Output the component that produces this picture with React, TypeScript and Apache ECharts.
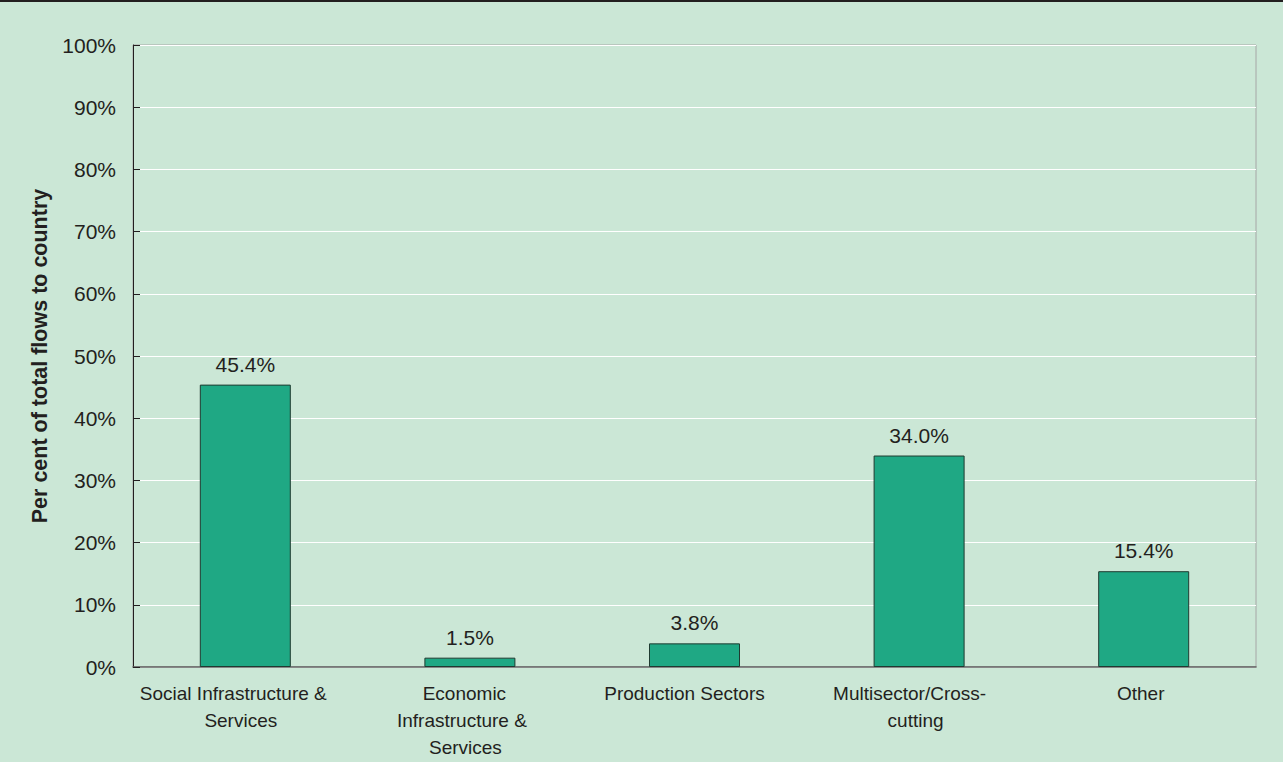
import React, { useEffect, useRef } from "react";
import * as echarts from "echarts";

const categories = [
  "Social Infrastructure &\nServices",
  "Economic\nInfrastructure &\nServices",
  "Production Sectors",
  "Multisector/Cross-\ncutting",
  "Other",
];
const values = [45.4, 1.5, 3.8, 34.0, 15.4];
const yTicks = { min: 0, max: 100, interval: 10 };
const yTitle = "Per cent of total flows to country";

const TEXT = "#231f20";
const FONT = "'Liberation Sans', Arial, sans-serif";
const CAT_SIZE = 19;
const CAT_LH = 27;

export default function App() {
  const ref = useRef<HTMLDivElement>(null);
  useEffect(() => {
    if (!ref.current) return;

    // Build rich styles so each label line sits slightly left of centre, as in the source.
    const ctx = document.createElement("canvas").getContext("2d");
    if (ctx) ctx.font = `${CAT_SIZE}px ${FONT}`;
    const rich: Record<string, any> = {};
    const catText: string[] = categories.map((cat, i) =>
      cat
        .split("\n")
        .map((line, j) => {
          const w = ctx ? ctx.measureText(line).width : line.length * 9;
          const key = `l${i}_${j}`;
          rich[key] = {
            fontSize: CAT_SIZE,
            lineHeight: CAT_LH,
            color: TEXT,
            fontFamily: FONT,
            padding: [0, Math.round(w * 0.126), 0, 0],
          };
          return `{${key}|${line}}`;
        })
        .join("\n")
    );

    const chart = echarts.init(ref.current, undefined, { renderer: "svg" });
    chart.setOption({
      animation: false,
      backgroundColor: "#cbe7d6",
      textStyle: { fontFamily: FONT, color: TEXT },
      graphic: [
        {
          type: "rect",
          left: 0,
          top: 0,
          shape: { width: 1283, height: 2 },
          style: { fill: TEXT },
        },
      ],
      grid: {
        left: 133,
        right: 27,
        top: 45,
        bottom: 95,
        show: true,
        borderColor: "#a6a6a6",
        borderWidth: 1,
        backgroundColor: "transparent",
      },
      xAxis: {
        type: "category",
        data: categories,
        axisLine: { show: true, lineStyle: { color: "#5f5f5f", width: 1.5 } },
        axisTick: { show: false },
        axisLabel: {
          interval: 0,
          fontSize: CAT_SIZE,
          lineHeight: CAT_LH,
          margin: 13,
          color: TEXT,
          fontFamily: FONT,
          formatter: (_v: string, idx: number) => catText[idx],
          rich,
        },
        splitLine: { show: false },
      },
      yAxis: {
        type: "value",
        min: yTicks.min,
        max: yTicks.max,
        interval: yTicks.interval,
        name: yTitle,
        nameLocation: "middle",
        nameGap: 82,
        nameRotate: 90,
        nameTextStyle: {
          fontSize: 21.5,
          fontWeight: "bold",
          color: TEXT,
          fontFamily: FONT,
        },
        axisLine: { show: true, lineStyle: { color: TEXT, width: 1 } },
        axisTick: { show: true, inside: true, length: 7, lineStyle: { color: TEXT } },
        axisLabel: {
          formatter: "{value}%",
          fontSize: 21,
          margin: 17,
          color: TEXT,
          fontFamily: FONT,
        },
        splitLine: { show: true, lineStyle: { color: "#ffffff", width: 1 } },
      },
      series: [
        {
          type: "bar",
          data: values,
          barWidth: 91,
          itemStyle: { color: "#1fa884", borderColor: "#1f3a30", borderWidth: 1 },
          label: {
            show: true,
            position: "top",
            distance: 10,
            fontSize: 21,
            color: TEXT,
            fontFamily: FONT,
            formatter: (p: any) => Number(p.value).toFixed(1) + "%",
          },
        },
      ],
    });
    return () => chart.dispose();
  }, []);
  return (
    <div
      ref={ref}
      style={{ position: "absolute", left: 0, top: 0, width: 1283, height: 762 }}
    />
  );
}
